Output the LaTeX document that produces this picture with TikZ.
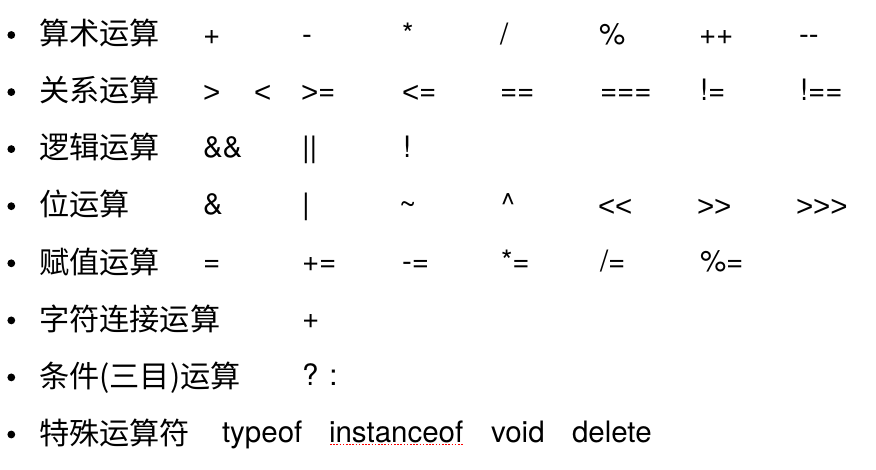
\documentclass[tikz,border=0pt]{standalone}
\usepackage{fontspec}
\setmainfont{TeX Gyre Heros}
\newfontfamily\cjk{Noto Sans CJK SC}
\newfontfamily\libsans{Liberation Sans}
\newcommand{\opgt}{\raisebox{-1.5pt}{\libsans >}}
\newcommand{\oplt}{\raisebox{-1.5pt}{\libsans <}}
\usetikzlibrary{calc}
\tikzset{
  op/.style={anchor=base west, inner sep=0pt, outer sep=0pt, font=\fontsize{29.5}{35}\selectfont},
  zh/.style={anchor=base west, inner sep=0pt, outer sep=0pt, font=\fontsize{30.2}{35}\selectfont\cjk},
  dot/.style={circle, fill=black, inner sep=0pt, minimum size=7.8pt},
  spell/.style={draw=red, line width=1.6pt, dash pattern=on 1.6pt off 1.6pt}
}
\begin{document}
\begin{tikzpicture}[x=1pt, y=-1pt]
\useasboundingbox (0,0) rectangle (876,470);
% row 1
\node[dot] (b1) at (11.3,35) {};
\node[zh] (t1) at (39,44.8) {算术运算};
\node[op] (r1a) at (203,44.1) {+};
\node[op] (r1b) at (302,44.1) {-};
\node[op] (r1c) at (402,44.1) {*};
\node[op] (r1d) at (500,44.1) {/};
\node[op] (r1e) at (599,44.1) {\%};
\node[op] (r1f) at (699,44.1) {++};
\node[op] (r1g) at (799,44.1) {-{}-};
% row 2
\node[dot] (b2) at (11.3,92.1) {};
\node[zh] (t2) at (39,101.9) {关系运算};
\node[op] (r2a) at (203,101) {\opgt};
\node[op] (r2b) at (254,101) {\oplt};
\node[op] (r2c) at (301,101) {\opgt=};
\node[op] (r2d) at (402,101) {\oplt=};
\node[op] (r2e) at (500,101) {==};
\node[op] (r2f) at (600,101) {===};
\node[op] (r2g) at (700,101) {!=};
\node[op] (r2h) at (800,101) {!==};
% row 3
\node[dot] (b3) at (11.3,149.1) {};
\node[zh] (t3) at (39,158.9) {逻辑运算};
\node[op] (r3a) at (203,157.9) {\&\&};
\node[op] (r3b) at (302,157.9) {||};
\node[op] (r3c) at (403,157.9) {!};
% row 4
\node[dot] (b4) at (11.3,206.2) {};
\node[zh] (t4) at (39,216.0) {位运算};
\node[op] (r4a) at (203,214.8) {\&};
\node[op] (r4b) at (302,214.8) {|};
\node[op] (r4c) at (399,214.8) {\textasciitilde};
\node[op] (r4d) at (501,214.8) {\textasciicircum};
\node[op] (r4e) at (598,214.8) {\oplt\oplt};
\node[op] (r4f) at (697,214.8) {\opgt\opgt};
\node[op] (r4g) at (796,214.8) {\opgt\opgt\opgt};
% row 5
\node[dot] (b5) at (11.3,263.3) {};
\node[zh] (t5) at (39,273.1) {赋值运算};
\node[op] (r5a) at (203,271.7) {=};
\node[op] (r5b) at (302,271.7) {+=};
\node[op] (r5c) at (402,271.7) {-=};
\node[op] (r5d) at (501,271.7) {*=};
\node[op] (r5e) at (600,271.7) {/=};
\node[op] (r5f) at (700,271.7) {\%=};
% row 6
\node[dot] (b6) at (11.3,320.4) {};
\node[zh] (t6) at (39,330.2) {字符连接运算};
\node[op] (r6a) at (302,328.6) {+};
% row 7
\node[dot] (b7) at (11.3,377.4) {};
\node[zh] (t7) at (39,387.2) {条件(三目)运算};
\node[op] (r7a) at (302,385.5) {? :};
% row 8
\node[dot] (b8) at (11.3,434.5) {};
\node[zh] (t8) at (39,444.3) {特殊运算符};
\node[op] (r8a) at (222,442.4) {typeof};
\node[op] (r8b) at (329,442.4) {instanceof};
\node[op] (r8c) at (491,442.4) {void};
\node[op] (r8d) at (572,442.4) {delete};
\coordinate (u1) at ($(r8b.base west)+(1,2)$);
\coordinate (u2) at ($(r8b.base east)+(0,2)$);
\draw[spell] (u1) -- (u2);
\end{tikzpicture}
\end{document}
